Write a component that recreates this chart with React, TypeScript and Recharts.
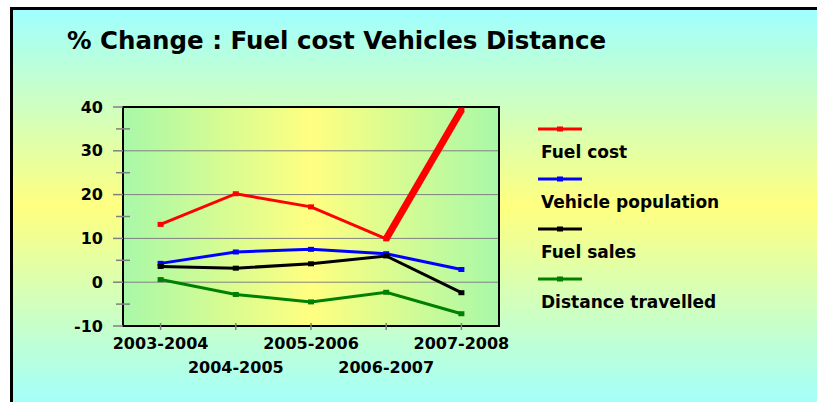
import { LineChart, Line, XAxis, YAxis, CartesianGrid, ReferenceArea } from 'recharts'

const periods = ['2003-2004', '2004-2005', '2005-2006', '2006-2007', '2007-2008']
const fuelCost = [13.2, 20.2, 17.2, 9.9, 39.3]
const vehiclePopulation = [4.3, 6.9, 7.5, 6.5, 2.9]
const fuelSales = [3.6, 3.2, 4.2, 6.0, -2.4]
const distanceTravelled = [0.6, -2.8, -4.5, -2.3, -7.2]

const yTicks = [-10, -5, 0, 5, 10, 15, 20, 25, 30, 35, 40]
const gridValues = [0, 10, 20, 30]

const FONT = '"DejaVu Sans", Arial, sans-serif'

interface SeriesDef {
  key:   string
  name:  string
  color: string
}

const SERIES: SeriesDef[] = [
  { key: 'fuelCost',          name: 'Fuel cost',          color: '#ff0000' },
  { key: 'vehiclePopulation', name: 'Vehicle population', color: '#0000ff' },
  { key: 'fuelSales',         name: 'Fuel sales',         color: '#000000' },
  { key: 'distanceTravelled', name: 'Distance travelled', color: '#008000' },
]

// the last fuel-cost step is drawn heavier in the original
const lastStep = fuelCost.length - 2

const data = periods.map((period, i) => ({
  period,
  fuelCost: fuelCost[i],
  fuelCostJump: i >= lastStep ? fuelCost[i] : null,
  vehiclePopulation: vehiclePopulation[i],
  fuelSales: fuelSales[i],
  distanceTravelled: distanceTravelled[i],
}))

function squareDot(color: string) {
  return (p: any) => {
    if (p.cx == null || p.cy == null || p.value == null) return <g key={p.index} />
    return <rect key={p.index} x={p.cx - 3} y={p.cy - 2.5} width={6} height={5} fill={color} />
  }
}

function YTick({ x, y, payload }: any) {
  const v = payload.value as number
  const major = v % 10 === 0
  return (
    <g>
      <line
        x1={major ? x - 10 : x - 7}
        x2={major ? x : x + 7}
        y1={y}
        y2={y}
        stroke="#808080"
        strokeWidth={1.5}
      />
      {major && (
        <text
          x={x - 20}
          y={y}
          textAnchor="end"
          dominantBaseline="central"
          style={{ fontFamily: FONT, fontSize: 16, fontWeight: 700, fill: '#000' }}
        >
          {v}
        </text>
      )}
    </g>
  )
}

function XTick({ x, y, payload, index }: any) {
  return (
    <g>
      <line x1={x} x2={x} y1={y - 3} y2={y + 4} stroke="#808080" strokeWidth={1.5} />
      <text
        x={x}
        y={y + (index % 2 ? 41 : 17)}
        textAnchor="middle"
        dominantBaseline="central"
        style={{ fontFamily: FONT, fontSize: 16, fontWeight: 700, fill: '#000' }}
      >
        {payload.value}
      </text>
    </g>
  )
}

function LegendBox() {
  return (
    <div style={{ position: 'absolute', left: 538, top: 120 }}>
      {SERIES.map((s) => (
        <div key={s.key} style={{ height: 50, position: 'relative' }}>
          <svg width={46} height={10} style={{ position: 'absolute', left: 0, top: 4, display: 'block' }}>
            <line x1={0} x2={44} y1={5} y2={5} stroke={s.color} strokeWidth={3} />
            <rect x={19} y={2.5} width={6} height={5} fill={s.color} />
          </svg>
          <div
            style={{
              position: 'absolute',
              left: 3,
              top: 24,
              fontFamily: FONT,
              fontSize: 17,
              lineHeight: '17px',
              fontWeight: 700,
              color: '#000',
              whiteSpace: 'nowrap',
            }}
          >
            {s.name}
          </div>
        </div>
      ))}
    </div>
  )
}

export default function App() {
  return (
    <div style={{ position: 'absolute', left: 0, top: 0, width: 817, height: 402, overflow: 'hidden', background: '#fff' }}>
      <div
        style={{
          position: 'absolute',
          left: 10,
          top: 7,
          width: 830,
          height: 400,
          borderTop: '3px solid #000',
          borderLeft: '3px solid #000',
          background: 'linear-gradient(to bottom, #a0ffff 0%, #ffff80 49%, #a0ffff 100%)',
        }}
      />
      {/* plot-area background, sits under the transparent svg */}
      <div
        style={{
          position: 'absolute',
          left: 123,
          top: 107,
          width: 376,
          height: 219,
          background: 'linear-gradient(to right, #a8f8a8 0%, #ffff80 50%, #a8f8a8 100%)',
        }}
      />
      <div
        style={{
          position: 'absolute',
          left: 67,
          top: 28,
          fontFamily: FONT,
          fontSize: 24.5,
          lineHeight: '25px',
          fontWeight: 700,
          color: '#000',
          whiteSpace: 'nowrap',
        }}
      >
        % Change : Fuel cost Vehicles Distance
      </div>

      <LineChart
        width={817}
        height={402}
        data={data}
        margin={{ top: 107, right: 318, bottom: 16, left: 0 }}
        style={{ position: 'absolute', left: 0, top: 0 }}
      >
        <CartesianGrid
          vertical={false}
          horizontalValues={gridValues}
          stroke="#808080"
          strokeWidth={1}
        />
        <XAxis
          dataKey="period"
          scale="band"
          height={60}
          interval={0}
          tickSize={0}
          tickMargin={0}
          tickLine={false}
          axisLine={{ stroke: '#000', strokeWidth: 2 }}
          tick={<XTick />}
        />
        <YAxis
          width={123}
          domain={[-10, 40]}
          ticks={yTicks}
          interval={0}
          tickSize={0}
          tickMargin={0}
          tickLine={false}
          axisLine={{ stroke: '#000', strokeWidth: 2 }}
          tick={<YTick />}
        />
        <ReferenceArea y1={-10} y2={40} fill="none" stroke="#000" strokeWidth={2} />
        {SERIES.map((s) => (
          <Line
            key={s.key}
            type="linear"
            dataKey={s.key}
            name={s.name}
            stroke={s.color}
            strokeWidth={3}
            dot={squareDot(s.color)}
            activeDot={false}
            isAnimationActive={false}
          />
        ))}
        <Line
          type="linear"
          dataKey="fuelCostJump"
          stroke="#ff0000"
          strokeWidth={7}
          dot={false}
          activeDot={false}
          legendType="none"
          isAnimationActive={false}
        />
      </LineChart>

      <LegendBox />
    </div>
  )
}
